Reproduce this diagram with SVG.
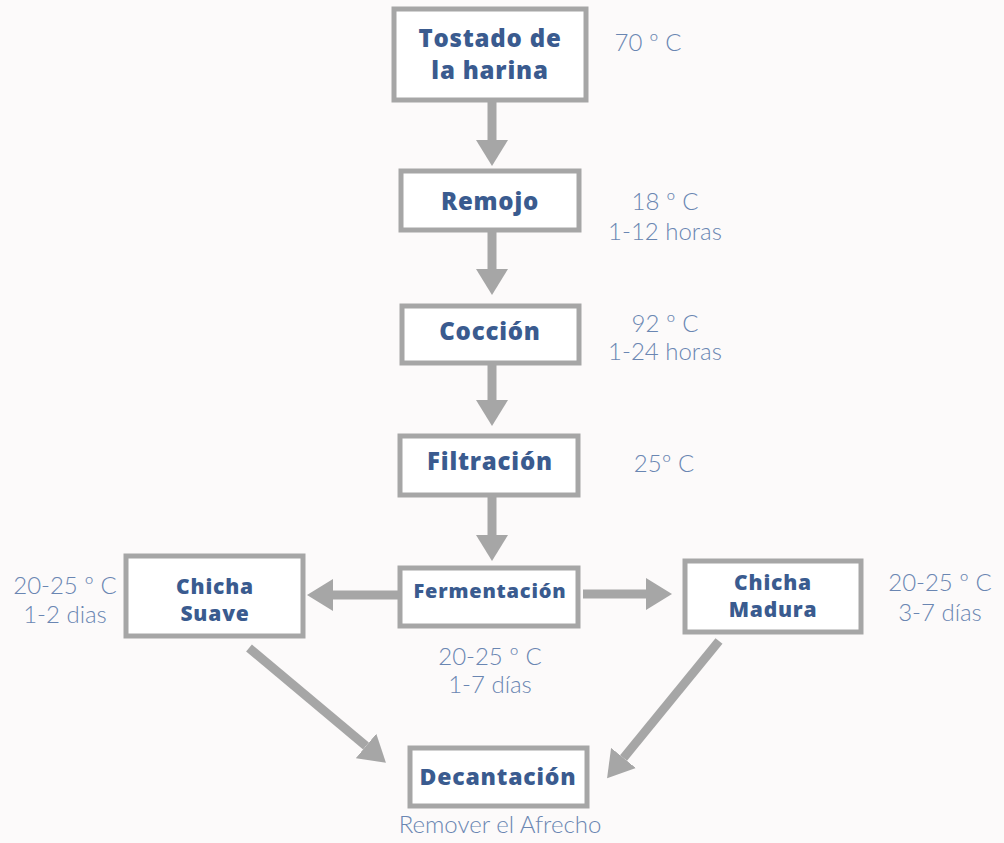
<svg xmlns="http://www.w3.org/2000/svg" width="1004" height="843" viewBox="0 0 1004 843">
<style>
.box{fill:#ffffff;stroke:#a6a6a6;stroke-width:5}
.t{font-family:"Open Sans","Liberation Sans",sans-serif;font-weight:800;fill:#3a5b8f;text-anchor:middle;letter-spacing:0.8px}
.n{font-family:Lato,"Liberation Sans",sans-serif;font-weight:300;fill:#6a86b2;text-anchor:middle;font-size:24px}
.c{stroke:#a6a6a6;stroke-width:9;fill:none;marker-end:url(#ah)}
</style>
<defs>
<marker id="ah" markerUnits="userSpaceOnUse" viewBox="0 0 26 32" refX="0" refY="16" markerWidth="26" markerHeight="32" orient="auto">
<path d="M0,0 L26,16 L0,32 Z" fill="#a6a6a6"/>
</marker>
</defs>
<rect width="1004" height="843" fill="#fcfafa"/>
<g id="connectors">
<line class="c" x1="492" y1="102" x2="492" y2="140"/>
<line class="c" x1="492" y1="232" x2="492" y2="269"/>
<line class="c" x1="492" y1="365" x2="492" y2="400"/>
<line class="c" x1="492" y1="497" x2="492" y2="535"/>
<line class="c" x1="398" y1="595" x2="333" y2="595"/>
<line class="c" x1="583" y1="594" x2="646" y2="594"/>
<line class="c" x1="249" y1="648" x2="366" y2="746"/>
<line class="c" x1="719" y1="641" x2="623.5" y2="758"/>
</g>
<g id="tostado">
<rect class="box" x="394" y="9" width="192" height="91"/>
<text class="t" font-size="24" x="490" y="47"><tspan x="490" y="47">Tostado de</tspan><tspan x="490" y="79">la harina</tspan></text>
<text class="n" x="648" y="51">70 º C</text>
</g>
<g id="remojo">
<rect class="box" x="401" y="171" width="178" height="59"/>
<text class="t" font-size="24" x="490" y="210">Remojo</text>
<text class="n" x="665" y="210"><tspan x="665" y="210">18 º C</tspan><tspan x="665" y="240">1-12 horas</tspan></text>
</g>
<g id="coccion">
<rect class="box" x="402" y="306" width="177" height="57"/>
<text class="t" font-size="24" x="490" y="340">Cocción</text>
<text class="n" x="665" y="332"><tspan x="665" y="332">92 º C</tspan><tspan x="665" y="360">1-24 horas</tspan></text>
</g>
<g id="filtracion">
<rect class="box" x="400" y="436" width="178" height="59"/>
<text class="t" font-size="24" x="490" y="470">Filtración</text>
<text class="n" x="664" y="472">25º C</text>
</g>
<g id="fermentacion">
<rect class="box" x="400" y="568" width="178" height="58"/>
<text class="t" font-size="20" x="490" y="598">Fermentación</text>
<text class="n" x="490" y="665"><tspan x="490" y="665">20-25 º C</tspan><tspan x="490" y="693">1-7 días</tspan></text>
</g>
<g id="suave">
<rect class="box" x="126" y="556" width="177" height="80"/>
<text class="t" font-size="21" x="215" y="594"><tspan x="215" y="594">Chicha</tspan><tspan x="215" y="621">Suave</tspan></text>
<text class="n" x="65" y="594"><tspan x="65" y="594">20-25 º C</tspan><tspan x="65" y="623">1-2 dias</tspan></text>
</g>
<g id="madura">
<rect class="box" x="685" y="561" width="176" height="71"/>
<text class="t" font-size="21" x="773" y="590"><tspan x="773" y="590">Chicha</tspan><tspan x="773" y="617">Madura</tspan></text>
<text class="n" x="940" y="591"><tspan x="940" y="591">20-25 º C</tspan><tspan x="940" y="621">3-7 días</tspan></text>
</g>
<g id="decantacion">
<rect class="box" x="410" y="748" width="177" height="58"/>
<text class="t" font-size="23" x="498" y="785">Decantación</text>
<text class="n" font-size="22" x="500" y="833">Remover el Afrecho</text>
</g>
</svg>
